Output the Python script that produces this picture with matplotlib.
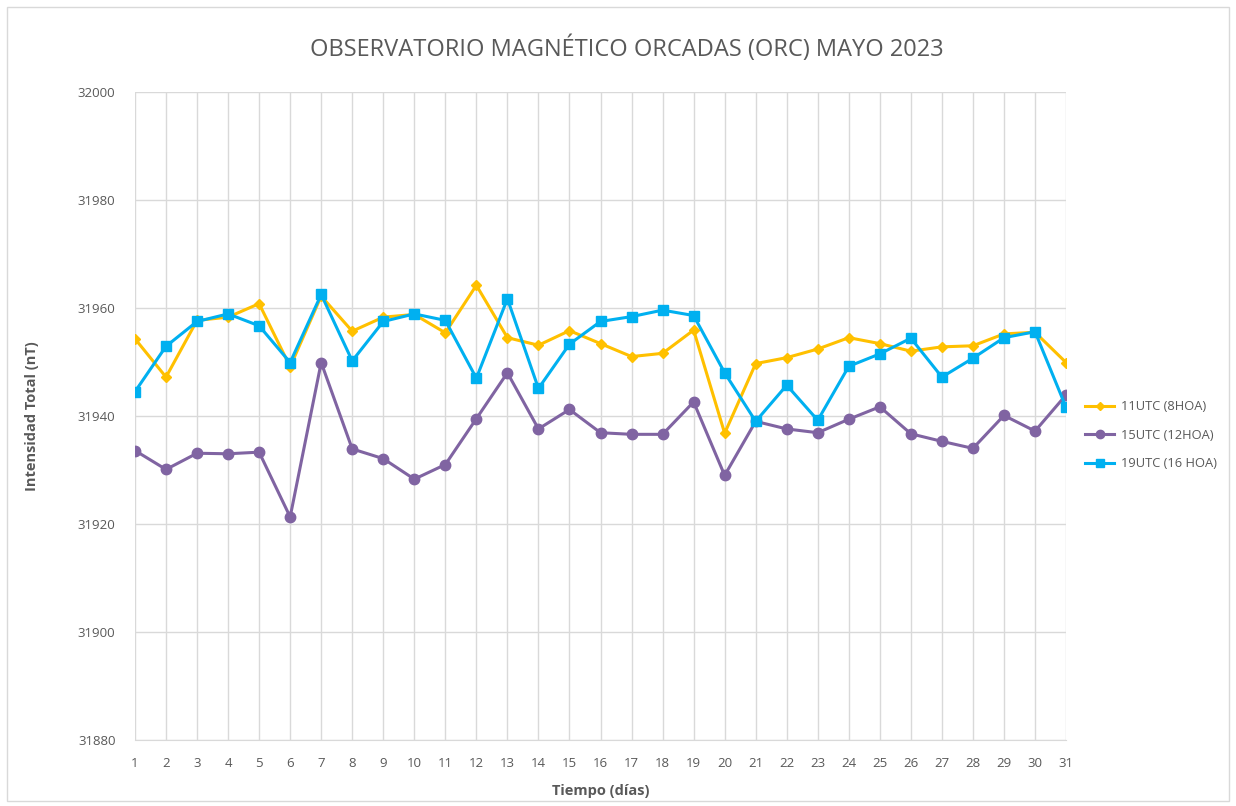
import matplotlib
matplotlib.use("Agg")
import matplotlib.pyplot as plt
from matplotlib.patches import Rectangle

days = list(range(1, 32))
s11 = [31954.3, 31947.2, 31957.7, 31958.3, 31960.8, 31949.1, 31962.2, 31955.7, 31958.3, 31958.8,
       31955.4, 31964.2, 31954.5, 31953.1, 31955.8, 31953.4, 31951.0, 31951.6, 31955.9, 31936.8,
       31949.7, 31950.8, 31952.4, 31954.5, 31953.4, 31952.0, 31952.8, 31953.0, 31955.2, 31955.5,
       31949.9]
s15 = [31933.6, 31930.1, 31933.1, 31933.0, 31933.3, 31921.3, 31949.9, 31933.9, 31932.1, 31928.3,
       31931.0, 31939.5, 31948.0, 31937.6, 31941.2, 31936.9, 31936.6, 31936.6, 31942.6, 31929.0,
       31939.0, 31937.6, 31936.9, 31939.4, 31941.7, 31936.7, 31935.3, 31934.0, 31940.1, 31937.2,
       31943.9]
s19 = [31944.5, 31952.9, 31957.5, 31958.9, 31956.7, 31949.9, 31962.5, 31950.2, 31957.5, 31958.9,
       31957.7, 31947.0, 31961.7, 31945.1, 31953.3, 31957.5, 31958.4, 31959.6, 31958.6, 31948.0,
       31939.0, 31945.7, 31939.2, 31949.2, 31951.5, 31954.4, 31947.2, 31950.7, 31954.5, 31955.6,
       31941.6]
labels = ["11UTC (8HOA)", "15UTC (12HOA)", "19UTC (16 HOA)"]
yticks = [31880, 31900, 31920, 31940, 31960, 31980, 32000]

plt.rcParams['font.family'] = ['Open Sans', 'DejaVu Sans']
fig = plt.figure(figsize=(12.36, 8.06), dpi=100)
fig.patches.append(Rectangle((0.006, 0.006), 0.988, 0.985, transform=fig.transFigure,
                             fill=False, edgecolor='#D9D9D9', linewidth=1))
ax = fig.add_axes([0.1092, 0.0819, 0.7533, 0.804])

ax.plot(days, s11, color='#FFC000', lw=2.2, marker='D', ms=5.5, label=labels[0], zorder=3)
ax.plot(days, s15, color='#8064A2', lw=2.2, marker='o', ms=7.5, label=labels[1], zorder=3)
ax.plot(days, s19, color='#00B0F0', lw=2.2, marker='s', ms=7.5, label=labels[2], zorder=3)

ax.set_xlim(1, 31)
ax.set_ylim(31880, 32000)
ax.set_xticks(days)
ax.set_yticks(yticks)
ax.grid(True, color='#D9D9D9', lw=1)
ax.set_axisbelow(True)
for s in ['top', 'right', 'left']:
    ax.spines[s].set_visible(False)
ax.spines['bottom'].set_color('#D9D9D9')
ax.tick_params(length=0, labelsize=9.5, labelcolor='#595959')
ax.tick_params(axis='x', pad=12)
ax.tick_params(axis='y', pad=14)

ax.set_xlabel('Tiempo (días)', fontsize=10.5, fontweight='bold', color='#595959', labelpad=10)
ax.set_ylabel('Intensidad Total (nT)', fontsize=10.5, fontweight='bold', color='#595959', labelpad=28)
fig.text(0.507, 0.94, 'OBSERVATORIO MAGNÉTICO ORCADAS (ORC) MAYO 2023', ha='center', va='center',
         fontsize=17, color='#595959')

leg = ax.legend(loc='center left', bbox_to_anchor=(1.02, 0.47), frameon=False, fontsize=9.3,
                labelcolor='#595959', handlelength=2.3, handletextpad=0.5, borderaxespad=0,
                borderpad=0, labelspacing=1.2, markerscale=0.8)
fig.savefig('out.png', dpi=100)
